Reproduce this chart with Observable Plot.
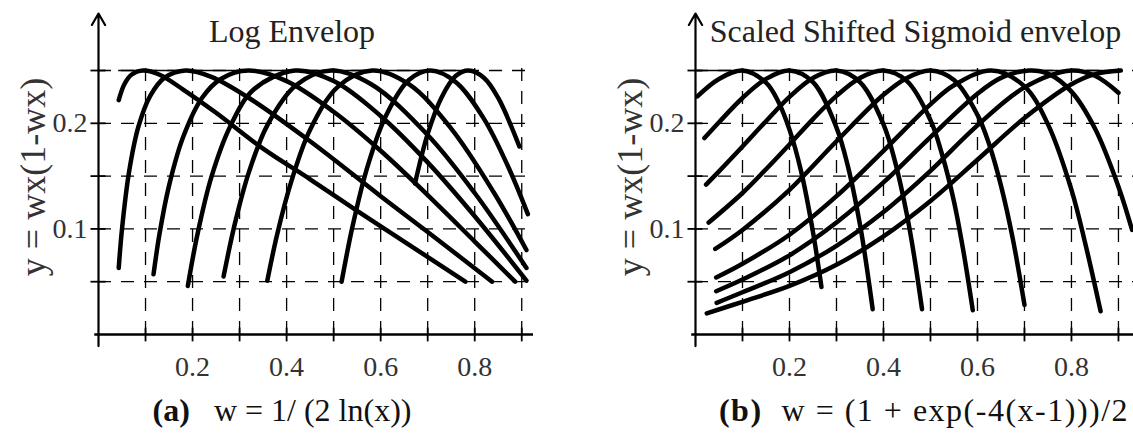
<!DOCTYPE html>
<html><head><meta charset="utf-8">
<script src="https://cdn.jsdelivr.net/npm/d3@7"></script>
<script src="https://cdn.jsdelivr.net/npm/@observablehq/plot@0.6"></script>
<style>
body{margin:0;background:#fff;}
#wrap{position:relative;width:1133px;height:439px;overflow:hidden;background:#fff;}
.panel{position:absolute;top:0;}
.cap{position:absolute;top:392px;font-family:"Liberation Serif","Times New Roman",serif;font-size:32px;color:#111;white-space:nowrap;transform:translateX(-50%);}
</style></head><body>
<div id="wrap">
 <div class="panel" id="left" style="left:0"></div>
 <div class="panel" id="right" style="left:566px"></div>
 <div class="cap" style="left:282px"><b>(a)</b>&nbsp;&nbsp; w = 1/ (2 ln(x))</div>
 <div class="cap" style="left:924px;letter-spacing:1.5px"><b>(b)</b>&nbsp; w = (1 + exp(-4(x-1)))/2</div>
</div>
<script>
// ---- values: [x, y] points along each curve ----
const logC1 = [[0.043,0.222],[0.055,0.237],[0.07,0.246],[0.095,0.25],[0.13,0.246],[0.18,0.232],[0.25,0.21],[0.35,0.176],[0.45,0.147],[0.55,0.117],[0.65,0.088],[0.78,0.05]];
const logC2 = [[0.043,0.063],[0.05,0.100],[0.065,0.154],[0.085,0.197],[0.11,0.226],[0.14,0.243],[0.185,0.25],[0.24,0.244],[0.32,0.224],[0.45,0.183],[0.6,0.131],[0.7,0.097],[0.837,0.05]];
const logC3 = [[0.117,0.057],[0.13,0.096],[0.15,0.141],[0.18,0.187],[0.22,0.224],[0.26,0.242],[0.319,0.25],[0.4,0.240],[0.5,0.211],[0.6,0.174],[0.7,0.132],[0.8,0.088],[0.886,0.05]];
const logC4 = [[0.19,0.046],[0.21,0.094],[0.24,0.149],[0.28,0.197],[0.33,0.232],[0.418,0.25],[0.5,0.240],[0.6,0.207],[0.7,0.163],[0.8,0.112],[0.91,0.051]];
const logC5 = [[0.266,0.055],[0.29,0.105],[0.32,0.154],[0.36,0.199],[0.42,0.236],[0.495,0.25],[0.58,0.237],[0.7,0.189],[0.8,0.134],[0.91,0.063]];
const logC6 = [[0.359,0.051],[0.38,0.095],[0.41,0.145],[0.45,0.194],[0.51,0.235],[0.582,0.25],[0.66,0.237],[0.75,0.195],[0.84,0.135],[0.91,0.080]];
const logC7 = [[0.517,0.050],[0.54,0.102],[0.57,0.156],[0.61,0.206],[0.66,0.241],[0.706,0.25],[0.76,0.239],[0.82,0.204],[0.87,0.160],[0.913,0.114]];
const logC8 = [[0.673,0.143],[0.7,0.190],[0.73,0.225],[0.76,0.245],[0.787,0.25],[0.82,0.243],[0.85,0.224],[0.895,0.178]];

const sigC1 = [[0.004,0.2255],[0.05,0.242],[0.1,0.25],[0.15,0.2385],[0.175,0.2216],[0.2,0.194],[0.225,0.154],[0.25,0.097],[0.268,0.045]];
const sigC2 = [[0.019,0.186],[0.05,0.201],[0.1,0.224],[0.15,0.242],[0.2,0.25],[0.25,0.239],[0.3,0.196],[0.325,0.158],[0.35,0.104],[0.365,0.062],[0.377,0.024]];
const sigC3 = [[0.0225,0.142],[0.05,0.1545],[0.1,0.178],[0.15,0.202],[0.2,0.225],[0.25,0.243],[0.3,0.25],[0.35,0.239],[0.4,0.199],[0.425,0.163],[0.45,0.113],[0.465,0.075],[0.482,0.024]];
const sigC4 = [[0.028,0.106],[0.1,0.134],[0.15,0.1565],[0.2,0.180],[0.25,0.204],[0.3,0.226],[0.35,0.243],[0.4,0.25],[0.45,0.240],[0.5,0.203],[0.525,0.170],[0.55,0.126],[0.57,0.079],[0.59,0.023]];
const sigC5 = [[0.042,0.081],[0.1,0.099],[0.2,0.137],[0.3,0.183],[0.4,0.227],[0.45,0.243],[0.5,0.25],[0.55,0.241],[0.6,0.208],[0.625,0.180],[0.65,0.141],[0.675,0.091],[0.7,0.028]];
const sigC6 = [[0.044,0.054],[0.1,0.067],[0.2,0.0945],[0.3,0.131],[0.4,0.174],[0.5,0.218],[0.55,0.236],[0.63,0.25],[0.7,0.235],[0.75,0.199],[0.8,0.137],[0.83,0.085],[0.862,0.022]];
const sigC7 = [[0.044,0.041],[0.1,0.052],[0.2,0.075],[0.3,0.106],[0.4,0.144],[0.5,0.187],[0.6,0.228],[0.65,0.243],[0.71,0.25],[0.75,0.247],[0.8,0.230],[0.85,0.195],[0.9,0.140],[0.929,0.099]];
const sigC8 = [[0.045,0.030],[0.1,0.040],[0.2,0.059],[0.3,0.084],[0.4,0.116],[0.5,0.155],[0.6,0.198],[0.7,0.234],[0.8,0.25],[0.85,0.245],[0.9,0.229]];
const sigC9 = [[0.024,0.020],[0.1,0.031],[0.2,0.046],[0.3,0.066],[0.4,0.093],[0.5,0.1265],[0.6,0.1655],[0.7,0.205],[0.8,0.237],[0.85,0.2466],[0.905,0.25]];

const logCurves = [logC1, logC2, logC3, logC4, logC5, logC6, logC7, logC8];
const sigCurves = [sigC1, sigC2, sigC3, sigC4, sigC5, sigC6, sigC7, sigC8, sigC9];

const gridYValues = [0.05, 0.1, 0.15, 0.2, 0.25];
const gridXValues = [0.1, 0.2, 0.3, 0.4, 0.5, 0.6, 0.7, 0.8, 0.9];
const yTickLabels = ["0.1", "0.2"];
const xTickLabels = ["0.2", "0.4", "0.6", "0.8"];
const yAxisLabel = "y = wx(1-wx)";
const titleA = "Log Envelop";
const titleB = "Scaled Shifted Sigmoid envelop";

const SERIF = "'Liberation Serif','Times New Roman',serif";

function makePanel({curves, title, titleDx, width, marginLeft, marginRight, xMax}) {
  const rows = curves.flatMap((c, i) => c.map(([x, y]) => ({x, y, k: i})));
  const last = curves[curves.length - 1];
  const topSolid = {x1: d3.min(rows, d => d.x), x2: last[d3.maxIndex(last, p => p[1])][0]};
  return Plot.plot({
    width, height: 380, marginLeft, marginRight, marginTop: 13, marginBottom: 46,
    x: {domain: [0, xMax], axis: null},
    y: {domain: [0, 0.304], axis: null},
    style: {background: "transparent", overflow: "visible", fontFamily: SERIF},
    marks: [
      Plot.ruleY(gridYValues, {x1: 0, x2: xMax, stroke: "#000", strokeWidth: 1.3, strokeDasharray: "13,10"}),
      Plot.ruleX(gridXValues, {y1: 0, y2: 0.256, stroke: "#000", strokeWidth: 1.3, strokeDasharray: "13,10"}),
      Plot.ruleY([0.25], {x1: topSolid.x1, x2: topSolid.x2, stroke: "#000", strokeWidth: 1.6}),
      Plot.line(rows, {x: "x", y: "y", z: "k", curve: "catmull-rom", stroke: "#000", strokeWidth: 4.5}),
      Plot.ruleY([0], {x1: -0.008, x2: xMax, stroke: "#000", strokeWidth: 2.4}),
      Plot.arrow([0], {x1: 0, x2: 0, y1: -0.011, y2: 0.304, headLength: 9, stroke: "#000", strokeWidth: 2.2}),
      Plot.ruleX(gridXValues, {y1: -0.007, y2: 0.006, stroke: "#000", strokeWidth: 1.8}),
      Plot.ruleY(gridYValues, {x1: -0.016, x2: 0.016, stroke: "#000", strokeWidth: 1.8}),
      Plot.text(xTickLabels, {x: d => +d, y: 0, dy: 33, text: d => d, fontSize: 28, fill: "#333"}),
      Plot.text(yTickLabels, {x: 0, y: d => +d, dx: -11, text: d => d, textAnchor: "end", fontSize: 28, fill: "#333"}),
      Plot.text([yAxisLabel], {frameAnchor: "left", dx: -65, dy: 3, rotate: -90, textAnchor: "middle", fontSize: 36, fill: "#333"}),
      Plot.text([title], {frameAnchor: "top", dx: titleDx, dy: 6, lineAnchor: "top", textAnchor: "middle", fontSize: 32, fill: "#222"})
    ]
  });
}

document.getElementById("left").append(makePanel({
  curves: logCurves, title: titleA, titleDx: -24, width: 566, marginLeft: 98, marginRight: 33, xMax: 0.925
}));
document.getElementById("right").append(makePanel({
  curves: sigCurves, title: titleB, titleDx: 1, width: 567, marginLeft: 129, marginRight: 0, xMax: 0.932
}));
</script>
</body></html>
